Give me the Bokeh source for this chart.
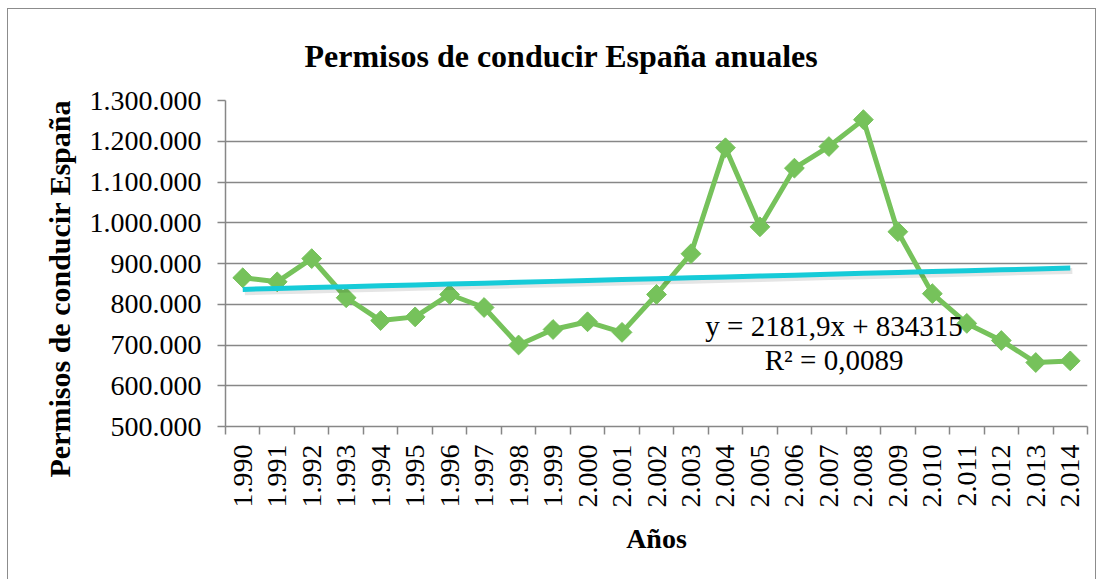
import numpy as np
from bokeh.plotting import figure
from bokeh.models import Range1d, FixedTicker, Title, Label, CustomJSTickFormatter
from bokeh.embed import file_html
from bokeh.resources import INLINE

# ---- data ----
years = list(range(1990, 2015))
year_labels = ["1.990", "1.991", "1.992", "1.993", "1.994", "1.995", "1.996", "1.997",
               "1.998", "1.999", "2.000", "2.001", "2.002", "2.003", "2.004", "2.005",
               "2.006", "2.007", "2.008", "2.009", "2.010", "2.011", "2.012", "2.013", "2.014"]
permisos = [865000, 855000, 912000, 816000, 760000, 769000, 824000, 792000, 700000,
            738000, 757000, 731000, 824000, 924000, 1184000, 990000, 1134000, 1187000,
            1253000, 978000, 826000, 753000, 711000, 657000, 661000]
y_ticks = [500000, 600000, 700000, 800000, 900000, 1000000, 1100000, 1200000, 1300000]
y_tick_labels = ["500.000", "600.000", "700.000", "800.000", "900.000",
                 "1.000.000", "1.100.000", "1.200.000", "1.300.000"]
trend_slope = 2181.9
trend_intercept = 834315
eq_text = "y = 2181,9x + 834315"
r2_text = "R² = 0,0089"
title_text = "Permisos de conducir España anuales"
y_title = "Permisos de conducir España"
x_title = "Años"

# ---- derived ----
xi = np.arange(1, len(years) + 1)
trend = trend_slope * xi + trend_intercept
bounds = list(np.arange(0.5, len(years) + 1, 1.0))

GREEN = "#76C25B"
CYAN = "#16CBD8"
GRID = "#878787"
FONT = "Liberation Serif"

LABEL_JS = "const i = vals.indexOf(tick); return i >= 0 ? labs[i] : '';"

p = figure(width=1089, height=572, output_backend="svg", toolbar_location=None,
           x_range=Range1d(0.5, len(years) + 0.5), y_range=Range1d(y_ticks[0], y_ticks[-1]),
           min_border_left=217, min_border_right=10, min_border_top=90, min_border_bottom=155)
p.styles = {"border": "1px solid #8c8c8c", "margin-left": "7px", "margin-top": "8px"}
p.outline_line_color = None
p.background_fill_color = "white"
p.border_fill_color = "white"

# title
p.title.text = title_text
p.title.text_font = FONT
p.title.text_font_size = "32px"
p.title.text_font_style = "bold"
p.title.text_color = "black"
p.title.align = "left"
p.title.offset = 79
p.title.standoff = 53

# grid
p.xgrid.visible = False
p.ygrid.ticker = FixedTicker(ticks=y_ticks)
p.ygrid.grid_line_color = GRID
p.ygrid.grid_line_width = 1.5

# y axis
p.yaxis.ticker = FixedTicker(ticks=y_ticks)
p.yaxis.formatter = CustomJSTickFormatter(args=dict(vals=y_ticks, labs=y_tick_labels), code=LABEL_JS)
p.yaxis.major_tick_out = 8
p.yaxis.major_tick_in = 0
p.yaxis.minor_tick_out = 0
p.yaxis.major_tick_line_color = GRID
p.yaxis.major_tick_line_width = 1.5
p.yaxis.axis_line_color = GRID
p.yaxis.axis_line_width = 1.5
p.yaxis.major_label_text_font = FONT
p.yaxis.major_label_text_font_size = "28px"
p.yaxis.major_label_text_color = "black"
p.yaxis.major_label_standoff = 16

# x axis
p.xaxis.ticker = FixedTicker(ticks=list(xi), minor_ticks=bounds)
p.xaxis.formatter = CustomJSTickFormatter(args=dict(vals=[int(v) for v in xi], labs=year_labels),
                                          code=LABEL_JS)
p.xaxis.major_label_orientation = np.pi / 2
p.xaxis.major_tick_out = 0
p.xaxis.major_tick_in = 0
p.xaxis.minor_tick_out = 8
p.xaxis.minor_tick_in = 0
p.xaxis.minor_tick_line_color = GRID
p.xaxis.minor_tick_line_width = 1.5
p.xaxis.axis_line_color = GRID
p.xaxis.axis_line_width = 1.5
p.xaxis.major_label_text_font = FONT
p.xaxis.major_label_text_font_size = "28px"
p.xaxis.major_label_text_color = "black"
p.xaxis.major_label_standoff = 10
p.xaxis.axis_label = x_title
p.xaxis.axis_label_text_font = FONT
p.xaxis.axis_label_text_font_size = "28px"
p.xaxis.axis_label_text_font_style = "bold"
p.xaxis.axis_label_text_color = "black"
p.xaxis.axis_label_standoff = 12

# y title (left panel)
p.add_layout(Title(text=y_title, align="left", offset=-51, text_font=FONT,
                   text_font_size="30px", text_font_style="bold", text_color="black",
                   standoff=22), "left")

# series
p.line(xi, permisos, line_color=GREEN, line_width=5, line_join="round")
p.scatter(xi, permisos, marker="square", angle=np.pi / 4, size=14,
          fill_color=GREEN, line_color=GREEN)

# trend line with soft shadow
p.line(xi + 0.06, trend - 7000, line_color="#000000", line_alpha=0.1, line_width=6)
p.line(xi, trend, line_color=CYAN, line_width=5)

p.add_layout(Label(x=18.15, y=747000, text=eq_text, text_align="center", text_baseline="middle",
                   text_font=FONT, text_font_size="29px", text_color="black"))
p.add_layout(Label(x=18.15, y=664000, text=r2_text, text_align="center", text_baseline="middle",
                   text_font=FONT, text_font_size="29px", text_color="black"))

open("out.html", "w").write(file_html(p, INLINE))
